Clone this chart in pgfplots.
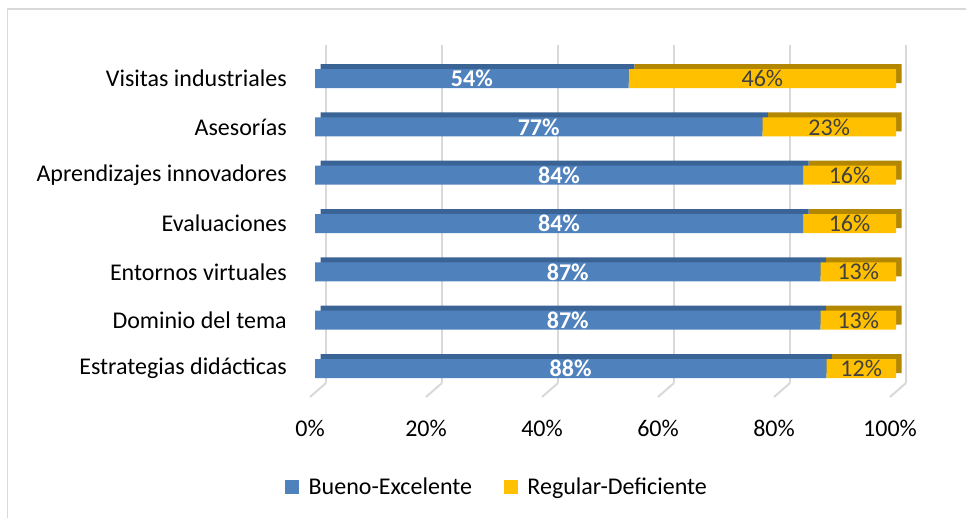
\documentclass[border=0pt]{standalone}
\usepackage{pgfplots}
\pgfplotsset{compat=1.18}
\usepackage{pgfplotstable}
\usepackage{fontspec}
\setmainfont{Carlito}

\definecolor{cblue}{HTML}{4F81BD}
\definecolor{cbluedk}{HTML}{3B6496}
\definecolor{cgold}{HTML}{FFC000}
\definecolor{cgolddk}{HTML}{B38700}
\definecolor{cgrid}{HTML}{D9D9D9}
\definecolor{clab}{HTML}{404040}
\newcommand\fsz{\fontsize{18}{21}\selectfont}

% y: 0 = Estrategias didácticas ... 6 = Visitas industriales
% bm, rm: middle of each segment, where its label goes
\pgfplotstableread{
y be rd bm rm
0 88 12 44 94
1 87 13 43.5 93.5
2 87 13 43.5 93.5
3 84 16 42 92
4 84 16 42 92
5 77 23 38.5 88.5
6 54 46 27 77
}\datos

\pgfplotsset{
  barras/.style={scale only axis, anchor=south west,
    width=435.75pt, height=253.7pt,
    xmin=0, xmax=100, ymin=-0.5, ymax=6.5, bar width=14.25pt},
}

\begin{document}
\begin{tikzpicture}
\useasboundingbox (0pt,0pt) rectangle (724.5pt,388.5pt);
\draw[cgrid, line width=1pt] (5.6pt,0pt) -- (5.6pt,381.75pt) -- (724.5pt,381.75pt);

% back wall with grid
\begin{axis}[at={(244.5pt,101.25pt)}, anchor=south west, scale only axis,
  width=435pt, height=253.5pt, clip=false,
  xmin=0, xmax=100, ymin=0, ymax=1,
  xtick={0,20,...,100}, ytick=\empty,
  xmajorgrids, grid style={cgrid, line width=1.5pt},
  axis line style={draw=none}, major tick length=0pt,
  /pgf/number format/assume math mode=true,
  xticklabel={\pgfmathprintnumber{\tick}\%},
  xticklabel style={font=\fsz, anchor=center, xshift=-12pt, yshift=-33.75pt}]
\pgfplotsinvokeforeach{0,20,40,60,80,100}{
  \draw[cgrid, line width=1.5pt] (axis cs:#1,0) -- ++(-12pt,-10.5pt);}
\end{axis}

% depth of the bars
\begin{axis}[barras, xbar stacked, at={(240.375pt,97.725pt)}, hide axis]
\addplot[fill=cbluedk, draw=none] table[x=be, y=y]{\datos};
\addplot[fill=cgolddk, draw=none] table[x=rd, y=y]{\datos};
\end{axis}

% front faces
\begin{axis}[barras, xbar stacked, at={(236.25pt,93.975pt)},
  axis line style={draw=none}, major tick length=0pt,
  xtick=\empty, ytick={0,...,6},
  yticklabels={Estrategias didácticas, Dominio del tema, Entornos virtuales,
    Evaluaciones, Aprendizajes innovadores, Asesorías, Visitas industriales},
  yticklabel style={font=\fsz, anchor=east, inner sep=0pt, xshift=-21pt},
  legend columns=2,
  legend image code/.code={\fill[#1] (0pt,-5.25pt) rectangle (10.5pt,5.25pt);},
  legend style={at={(0.314,-0.279)}, anchor=center, draw=none, font=\fsz,
    /tikz/every odd column/.append style={column sep=5pt},
    /tikz/every even column/.append style={column sep=22pt}}]
\addplot[fill=cblue, draw=none] table[x=be, y=y]{\datos};
\addplot[fill=cgold, draw=none] table[x=rd, y=y]{\datos};
\legend{Bueno-Excelente, Regular-Deficiente}
\end{axis}

% data labels, centred on each segment
\begin{axis}[barras, at={(236.25pt,93.975pt)}, hide axis, clip=false,
  /pgf/number format/assume math mode=true]
\addplot[draw=none, mark=none, point meta=\thisrow{be},
  nodes near coords={\textbf{\pgfmathprintnumber{\pgfplotspointmeta}\%}},
  nodes near coords style={font=\fsz, text=white, anchor=center}]
  table[x=bm, y=y]{\datos};
\addplot[draw=none, mark=none, point meta=\thisrow{rd},
  nodes near coords={\pgfmathprintnumber{\pgfplotspointmeta}\%},
  nodes near coords style={font=\fsz, text=clab, anchor=center}]
  table[x=rm, y=y]{\datos};
\end{axis}
\end{tikzpicture}
\end{document}
